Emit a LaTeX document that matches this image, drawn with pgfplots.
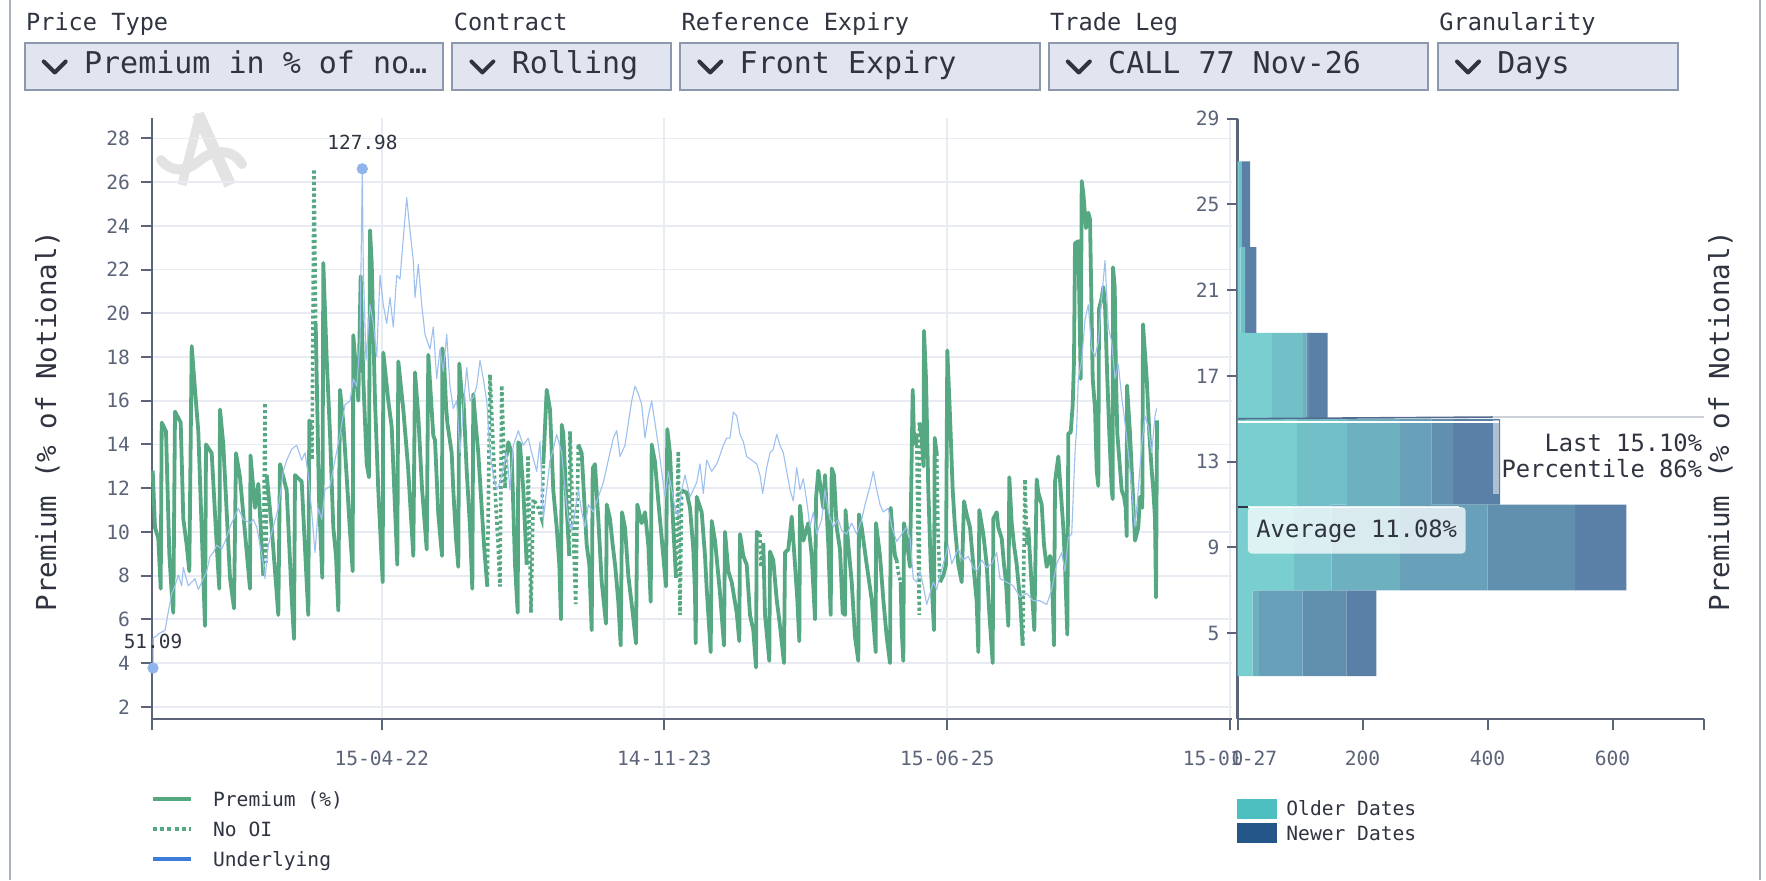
\documentclass[border=0pt]{standalone}
\usepackage{fontspec}
\setmainfont{DejaVu Sans Mono}
\usepackage{pgfplots}
\pgfplotsset{compat=1.18}
\newcommand\fs[1]{\fontsize{#1}{#1}\selectfont}
\definecolor{grn}{HTML}{55A882}
\definecolor{ublue}{HTML}{9EC0EF}
\definecolor{umark}{HTML}{8FB5EA}
\definecolor{lblue}{HTML}{3B7DD8}
\definecolor{tickc}{HTML}{5B6479}
\definecolor{gridc}{HTML}{E8EBF2}
\definecolor{txt}{HTML}{2F3440}
\definecolor{boxfill}{HTML}{E1E5EF}
\definecolor{boxdraw}{HTML}{8D97AD}
\definecolor{panel}{HTML}{A9B0C2}
\definecolor{wm}{HTML}{E3E3E3}
\definecolor{oldc}{HTML}{4DBFC0}
\definecolor{newc}{HTML}{24568A}
\definecolor{hA}{RGB}{121,207,208}
\definecolor{hB}{RGB}{115,191,200}
\definecolor{hC}{RGB}{109,176,192}
\definecolor{hD}{RGB}{103,160,184}
\definecolor{hE}{RGB}{97,144,175}
\definecolor{hF}{RGB}{91,128,167}
\definecolor{lastc}{HTML}{CDD1DA}
\definecolor{bartop}{RGB}{84,108,142}
\tikzset{lbl/.style={inner sep=0pt, text height=0.73em, text depth=0pt}}
\begin{document}
\begin{tikzpicture}
\path[use as bounding box] (0,0) rectangle (883pt,440pt);
\begin{scope}[shift={(0pt,440pt)}, x=0.5pt, y=-0.5pt]
  \fill[white] (0,0) rectangle (1766,880);
  \draw[panel, line width=1pt] (10,0) -- (10,880);
  \draw[panel, line width=1pt] (1760,0) -- (1760,880);
  % watermark logo
  \draw[wm, line width=6pt] (198,114) -- (230,185);
  \draw[wm, line width=4.5pt] (200,114) -- (182,185);
  \draw[wm, line width=5pt, line cap=round] (161,160) .. controls (172,173) and (186,172) .. (199,161) .. controls (212,150) and (231,147) .. (242,164);
\end{scope}

% ---------------- main time series axis ----------------
\begin{axis}[
  at={(76pt,80.5pt)}, anchor=south west,
  width=540pt, height=300.35pt, scale only axis,
  xmin=152, xmax=1232, ymin=1.44, ymax=28.92,
  axis x line*=bottom, axis y line*=left,
  axis line style={draw=tickc, line width=1.1pt},
  xtick={381.7,664.3,947.3,1230},
  xticklabels={15-04-22,14-11-23,15-06-25,15-01-27},
  extra x ticks={152}, extra x tick labels={}, extra x tick style={grid=none},
  ytick={2,4,...,28},
  tick align=outside, major tick length=5.5pt,
  tick style={draw=tickc, line width=1pt},
  xmajorgrids, ymajorgrids, grid style={draw=gridc, line width=0.9pt},
  tick label style={font=\fs{9.8}, text=tickc},
  xticklabel shift=7pt, yticklabel shift=2pt,
  /pgf/number format/assume math mode=true,
  unbounded coords=jump, clip=false,
]
% Premium (%) solid
\addplot[grn, line width=1.9pt, line join=round] coordinates {
(152.7,12.8)(155,10.2)(158.3,9.7)(160.7,7.4)(161.7,15.0)(166,14.6)(169.3,9.0)(171.7,7.2)(173.3,6.3)(175,15.5)(180.7,15.0)(183.3,10.6)(186.7,9.4)(189.3,8.2)(191.7,18.5)(195,16.5)(198.3,14.6)(205,5.7)(206,14.0)(211.7,13.6)(216.7,9.4)(219.3,7.4)(220,15.6)(223.3,14.0)(230,7.9)(234,6.5)(236,13.6)(240,12.5)(250,7.4)(250.5,13.5)(255,11.1)(258.3,12.2)(263.3,8.0)(264,nan)(266.7,12.6)(271.7,10.2)(278.3,6.2)(280,13.1)(286.7,11.9)(291.7,7.0)(294,5.1)(295,12.6)(301.7,12.3)(308.3,6.2)(309.3,15.1)(311,14.8)(312,nan)(315.7,19.5)(319,11.5)(322.3,7.9)(323.3,22.3)(326.7,17.9)(330,14.5)(333.3,10.2)(336,8.9)(338.3,6.4)(340,16.5)(343.3,15.0)(346.7,12.5)(350,10.0)(352.7,8.2)(353.3,19.0)(356.7,17.0)(358.3,16.0)(360.7,21.7)(363.3,17.0)(366.7,13.1)(369,12.5)(370,23.8)(371.7,22.3)(375,16.0)(378.3,11.9)(382.7,7.7)(383.3,18.2)(388.3,16.0)(391.7,14.8)(397.3,8.5)(398.3,17.8)(403.3,15.6)(408,13.0)(413.3,8.9)(415,17.3)(418.3,15.3)(422,12.0)(426.7,9.2)(428.3,18.1)(433.3,14.4)(435,14.2)(438.3,10.8)(442,8.9)(442.3,18.4)(444,17.9)(446,15.8)(447.3,15.0)(451.7,13.6)(453.3,11.9)(456,9.7)(458.3,8.4)(459.3,17.7)(461.7,16.3)(463.3,16.2)(466.7,12.8)(470,10.2)(472.3,7.4)(473.3,16.3)(475,15.3)(478.3,13.6)(481.7,11.1)(484.3,9.2)(487.3,7.5)(488,nan)(506.7,13.5)(508.3,14.1)(511.7,13.6)(515,8.5)(517.7,6.3)(518.3,14.1)(520,14.0)(523.3,11.9)(526.7,8.5)(527,nan)(543.3,13.1)(546.7,16.5)(550,15.6)(553.3,11.9)(556.7,10.2)(559.3,8.5)(561,6.0)(561.7,14.9)(563.3,14.5)(566.7,11.1)(569.3,8.9)(570,nan)(578.3,14.0)(581.7,13.6)(586.7,9.4)(589.3,8.5)(591.7,5.5)(592.7,12.9)(595,13.1)(598.3,10.6)(601.7,7.7)(606,5.8)(606.7,11.25)(610,10.6)(612.7,9.4)(615.3,8.4)(618.3,6.8)(620.7,4.8)(622,10.9)(625,10.2)(628.3,8.0)(632.7,6.3)(636,4.9)(637.3,11.25)(641.7,10.4)(645,10.9)(648.3,9.4)(650.7,6.8)(651.7,14.0)(655,13.2)(658.3,11.4)(661.7,9.7)(666,7.5)(667.3,14.7)(670,13.6)(673.3,10.2)(676,7.9)(677,nan)(681.7,11.9)(686.7,11.8)(690,11.1)(693.3,9.2)(695,7.2)(695.7,4.9)(696.7,11.6)(701.7,10.9)(705,8.9)(706.7,7.4)(710.7,4.5)(711.7,10.5)(715,9.6)(717.3,8.5)(720,7.2)(724,4.8)(725,10.0)(728.3,8.2)(731.7,7.7)(736.7,6.3)(739.3,5.0)(740,9.9)(743.3,8.9)(746.7,8.5)(750,6.2)(753.3,5.5)(756,3.8)(756.7,10.0)(760,9.9)(761,nan)(763.3,9.5)(765,6.2)(769.3,4.1)(770,9.1)(773.3,8.7)(776.7,6.9)(780,5.7)(784,4.0)(785,9.05)(788.3,9.2)(791.7,10.7)(795,8.5)(797.3,6.9)(799.3,5.0)(800,11.2)(803.3,9.6)(808.3,10.4)(811.7,8.9)(815,6.0)(816,11.5)(818.3,12.8)(823.3,11.1)(825,12.6)(828.3,9.4)(830.7,6.2)(831.7,12.9)(834,12.6)(836.7,10.2)(840,9.2)(842.7,6.3)(845,6.2)(845.5,11.0)(848.3,9.4)(851.7,7.7)(855,5.2)(858.3,4.1)(859,10.8)(861.7,10.2)(866.7,8.5)(871.7,6.9)(875.7,4.5)(876,10.4)(880,8.9)(883.3,6.9)(886.7,5.2)(890,4.0)(890.7,11.1)(892.7,9.9)(895,8.9)(896.7,8.7)(897,nan)(900.7,7.7)(901.7,5.5)(903.3,4.1)(904,10.4)(906.7,9.6)(910,8.4)(912.7,16.5)(914,14.3)(916,14.0)(916.7,14.5)(917,nan)(919.4,15.0)(921.7,14.3)(923.5,13.0)(924,19.2)(926,17.0)(928.3,11.9)(930.7,8.5)(934,5.5)(934.7,14.3)(936.7,13.6)(937,nan)(940,7.7)(943.3,8.0)(946,8.5)(947.3,18.3)(950,15.3)(952.7,11.9)(955,10.2)(958.3,8.5)(961.7,7.7)(964,11.4)(966.7,10.8)(970,10.2)(973.3,8.5)(976.7,6.8)(978.3,4.5)(979.3,11.0)(983.3,9.9)(986.7,8.5)(989.3,6.3)(992.7,4.0)(993.3,10.6)(996.7,10.9)(998.3,10.2)(1001.7,9.7)(1004,8.5)(1006,7.7)(1008.3,5.7)(1009.3,12.5)(1011.7,10.4)(1014,9.4)(1016.7,8.5)(1018.3,7.7)(1020,7.0)(1022.7,4.8)(1023,nan)(1028.3,10.2)(1031.7,7.5)(1034.3,5.5)(1036.7,12.4)(1038.3,11.8)(1041.7,11.25)(1044,9.4)(1046.7,8.4)(1050,8.9)(1051.7,8.5)(1052.7,6.85)(1054,4.8)(1055,12.3)(1058.3,13.45)(1060.7,11.9)(1063.3,10.2)(1065,8.5)(1067.3,5.3)(1068.3,14.5)(1070.7,14.55)(1072.7,15.8)(1074,17.85)(1075,23.2)(1078.3,23.3)(1080.7,17.0)(1081.7,26.05)(1083.3,25.5)(1086,23.9)(1088.3,24.6)(1090,24.3)(1092.7,17.0)(1095,15.65)(1096.7,12.8)(1098.3,12.1)(1099,20.2)(1101.7,20.7)(1103.3,21.2)(1105,20.4)(1107.3,17.0)(1109.3,14.5)(1111.7,11.9)(1112.7,11.5)(1113,22.1)(1114.7,21.2)(1116,17.0)(1117.3,14.5)(1121.7,11.9)(1124,11.6)(1125.7,11.1)(1126.7,9.8)(1127,16.7)(1130,14.5)(1132.7,11.9)(1135,9.6)(1138.3,10.2)(1140,11.6)(1142.3,11.1)(1143,19.5)(1146.7,17.0)(1149.3,14.5)(1151.7,12.8)(1153.3,11.9)(1155,10.6)(1156,7.0)(1157,15.1)
};
% No OI dotted
\addplot[grn, line width=1.8pt, dash pattern=on 1.5pt off 1.4pt] coordinates {
(263.3,8.0)(265,15.9)(266,8.6)(266.7,12.6)(267,nan)(311,14.8)(312,13.3)(314,26.6)(315.7,19.5)(316,nan)(487.3,7.5)(490,17.2)(495,12.0)(498.3,9.2)(500,7.5)(501.7,16.7)(505,12.0)(506.7,13.5)(507,nan)(526.7,8.5)(528,13.5)(531,6.3)(533.3,11.5)(538.3,11.1)(541.7,10.6)(543.3,13.1)(544,nan)(569.3,8.9)(570,14.6)(575.7,6.7)(578.3,14.0)(579,nan)(676,7.9)(678.3,13.7)(680,6.2)(681.7,11.9)(682,nan)(760,9.9)(761,8.4)(763.3,9.5)(764,nan)(896.7,8.7)(898,8.2)(900.7,7.7)(901,nan)(916.7,14.5)(918,10.0)(919.3,6.2)(919.4,15.0)(920,nan)(936.7,13.6)(938,10.0)(940,7.7)(941,nan)(1022.7,4.8)(1025,12.4)(1026.7,9.4)(1028.3,10.2)
};
% Underlying (rescaled)
\addplot[ublue, line width=0.55pt, line join=round] coordinates {
(153,3.77)(153.3,5.16)(156.7,5.24)(158.3,5.33)(165,5.50)(168.3,6.34)(171.7,7.19)(175,7.53)(178.3,8.03)(181.7,7.53)(183.3,8.37)(188.3,7.53)(191.7,7.70)(195,7.86)(198.3,7.36)(201.7,7.70)(206.7,8.20)(210,8.88)(213.3,9.05)(216.7,9.39)(221.7,9.22)(225,9.56)(230,10.23)(235,10.74)(238.3,11.08)(243.3,10.57)(250,10.40)(253.3,10.57)(256.7,10.23)(260,9.39)(263.3,8.54)(265,7.86)(268.3,9.39)(273.3,10.23)(278.3,11.08)(283.3,12.77)(286.7,13.28)(291.7,13.79)(296.7,13.96)(301.7,13.28)(305,13.62)(308.3,12.60)(311.7,10.91)(315,9.05)(318.3,11.08)(321.7,10.57)(325,11.93)(330,12.09)(335,13.28)(340,14.46)(345,15.82)(350,15.99)(353.3,17.0)(356.7,16.66)(360,18.69)(362.3,26.61)(363.3,22.08)(366,17.85)(370,20.39)(373.3,19.54)(376.7,18.02)(380,21.74)(383.3,20.39)(386.7,19.54)(390,20.72)(393.3,19.37)(396.7,21.74)(400,21.57)(403.3,23.43)(406.7,25.29)(410,23.77)(413.3,22.42)(415,20.72)(418.3,22.25)(421.7,20.39)(425,19.03)(430,18.36)(433.3,19.37)(436.7,17.0)(440,18.36)(443.3,17.34)(446.7,19.03)(450,16.66)(453.3,15.65)(456.7,15.99)(460,13.62)(463.3,15.65)(466.7,17.51)(470,15.99)(473.3,16.16)(476.7,16.66)(480,17.85)(483.3,17.0)(486.7,15.99)(490,13.62)(493.3,12.60)(496.7,11.93)(500,12.26)(503.3,12.94)(506.7,13.62)(510,11.93)(513.3,13.96)(518.3,14.63)(523.3,13.96)(528.3,14.29)(531.7,13.62)(536.7,12.77)(540,14.13)(543.3,10.57)(546.7,11.93)(550,13.28)(553.3,13.79)(556.7,14.46)(561.7,13.62)(565,11.93)(568.3,10.57)(571.7,10.06)(575,10.91)(578.3,11.93)(581.7,10.91)(585,10.23)(588.3,11.25)(593.3,10.91)(598.3,11.59)(603.3,12.26)(608.3,13.28)(613.3,14.29)(616.7,14.63)(620,13.45)(625,13.96)(628.3,14.97)(631.7,15.99)(635,16.66)(638.3,16.32)(641.7,15.82)(645,14.29)(648.3,15.31)(651.7,15.99)(655,14.97)(658.3,13.96)(661.7,12.77)(665,11.59)(668.3,12.77)(671.7,11.93)(675,11.08)(678.3,10.74)(681.7,11.93)(685,12.60)(690,11.59)(693.3,11.93)(696.7,12.26)(700,13.11)(703.3,11.76)(706.7,13.28)(711.7,12.77)(716.7,13.11)(718.3,13.28)(723.3,13.96)(726.7,14.29)(730,14.29)(733.3,15.48)(736.7,15.31)(740,14.46)(743.3,14.13)(746.7,13.45)(751.7,13.28)(756.7,13.11)(760,12.60)(762.7,11.76)(766.7,12.94)(770,13.62)(773.3,13.79)(776.7,14.46)(780,13.96)(783.3,13.62)(786.7,12.77)(790,11.93)(793.3,11.42)(796.7,12.94)(800,11.93)(803.3,12.43)(806.7,11.42)(810,10.23)(813.3,10.91)(816.7,9.90)(821.7,10.57)(825,11.93)(828.3,10.91)(833.3,10.23)(838.3,10.57)(841.7,10.06)(846.7,9.90)(851.7,10.40)(856.7,9.90)(861.7,10.57)(865,11.25)(870,12.09)(873.3,12.77)(876.7,11.93)(880,11.25)(883.3,10.91)(888.3,11.08)(891.7,10.23)(896.7,9.56)(901.7,9.90)(906.7,10.23)(910,9.73)(913.3,7.86)(916.7,7.70)(920,8.20)(923.3,7.53)(926.7,6.68)(930,7.19)(933.3,7.70)(936.7,7.36)(940,8.03)(943.3,8.54)(948.3,9.39)(951.7,8.54)(955,8.88)(958.3,9.22)(963.3,8.71)(968.3,8.88)(973.3,8.37)(976.7,8.20)(981.7,8.71)(986.7,8.37)(991.7,8.54)(996.7,9.05)(1000,7.86)(1006.7,7.70)(1013.3,7.53)(1020,7.02)(1026.7,7.19)(1033.3,6.85)(1040,6.85)(1046.7,6.68)(1051.7,7.36)(1056.7,8.54)(1061.7,9.05)(1065,8.20)(1068.3,9.73)(1071.7,9.90)(1075,13.62)(1076.7,14.80)(1078.3,17.0)(1081.7,17.85)(1085,19.71)(1088.3,20.39)(1091.7,18.36)(1095,18.02)(1098.3,18.69)(1101.7,20.72)(1105,22.42)(1108.3,19.37)(1111.7,18.69)(1115,17.0)(1118.3,17.68)(1121.7,16.16)(1125,14.97)(1128.3,13.62)(1131.7,11.93)(1135,10.23)(1138.3,11.93)(1141.7,13.96)(1145,15.31)(1148.3,14.80)(1151.7,13.62)(1155,15.31)(1156.7,15.65)
};
\addplot[only marks, mark=*, mark size=2.6pt, mark options={draw=umark, fill=umark}] coordinates {(153,3.77)(362.3,26.61)};
\node[font=\fs{9.7}, text=txt, lbl] at (axis cs:362.5,27.83) {127.98};
\node[font=\fs{9.7}, text=txt, lbl] at (axis cs:153,4.98) {51.09};
\end{axis}

% ---------------- histogram axis ----------------
\begin{axis}[
  at={(618.75pt,80.5pt)}, anchor=south west,
  width=233.15pt, height=300.25pt, scale only axis,
  xmin=0, xmax=746, ymin=1, ymax=29,
  xbar stacked, bar width=4,
  axis x line*=bottom, axis y line*=left,
  axis line style={draw=tickc, line width=1.1pt},
  xtick={0,200,400,600}, extra x ticks={746}, extra x tick labels={},
  ytick={5,9,13,17,21,25,29},
  tick align=outside, major tick length=5.5pt,
  tick style={draw=tickc, line width=1pt},
  tick label style={font=\fs{9.8}, text=tickc},
  xticklabel shift=7pt, yticklabel shift=0pt,
  /pgf/number format/assume math mode=true,
  clip=false,
]
\addplot[fill=hA, draw=none] coordinates {(24,5)(90,9)(95,13)(55,17)(5,21)(2,25)};
\addplot[fill=hB, draw=none] coordinates {(0,5)(60,9)(80,13)(50,17)(7,21)(4,25)};
\addplot[fill=hC, draw=none] coordinates {(10,5)(110,9)(85,13)(5,17)(0,21)(0,25)};
\addplot[fill=hD, draw=none] coordinates {(70,5)(140,9)(50,13)(0,17)(0,21)(0,25)};
\addplot[fill=hE, draw=none] coordinates {(70,5)(140,9)(35,13)(4,17)(0,21)(0,25)};
\addplot[fill=hF, draw=none] coordinates {(48,5)(82,9)(75,13)(30,17)(18,21)(14,25)};
\coordinate (l1) at (axis cs:746,15.08);
\coordinate (l2) at (axis cs:408,15.08);
\coordinate (t0) at (axis cs:0,15.0);
\coordinate (w0) at (axis cs:0,14.85);
\coordinate (w1) at (axis cs:419,14.85);
\coordinate (vb0) at (axis cs:408,11.5);
\coordinate (vb1) at (axis cs:419,14.95);
\coordinate (a0) at (axis cs:0,10.88);
\coordinate (a1) at (axis cs:16.5,10.88);
\coordinate (a2) at (axis cs:355,10.88);
\coordinate (avgBL) at (axis cs:16.5,8.71);
\coordinate (avgTR) at (axis cs:365,10.88);
\coordinate (avgC) at (axis cs:190.7,9.81);
\coordinate (lastT) at (axis cs:744,13.83);
\coordinate (pctT) at (axis cs:744,12.58);
\end{axis}
% histogram annotations (on top of the bars)
\draw[bartop, line width=0.8pt] (t0) -- (l2);
\draw[lastc, line width=0.6pt] (l2) -- (l1);
\draw[white, line width=1.2pt] (w0) -- (w1);
\fill[white, opacity=0.5] (vb0) rectangle (vb1);
\fill[white, opacity=0.75, rounded corners=2pt] (avgBL) rectangle (avgTR);
\draw[white, opacity=0.8, line width=1pt] (a1) -- (a2);
\draw[txt, line width=1pt] (a0) -- (a1);
\node[font=\fs{11.9}, text=txt, lbl] at (avgC) {Average 11.08\%};
\node[font=\fs{11.9}, text=txt, lbl, anchor=east] at (lastT) {Last 15.10\%};
\node[font=\fs{11.9}, text=txt, lbl, anchor=east] at (pctT) {Percentile 86\%};

% ---------------- overlay: controls, labels, legends ----------------
\begin{scope}[shift={(0pt,440pt)}, x=0.5pt, y=-0.5pt]
  % dropdown boxes
  \foreach \l/\r/\lab/\val in {24.7/443.2/Price Type/Premium in \% of no…, 452.4/670.5/Contract/Rolling, 680.3/1039.8/Reference Expiry/Front Expiry, 1048.8/1428.4/Trade Leg/CALL 77 Nov-26, 1438/1677.7/Granularity/Days}{
    \filldraw[fill=boxfill, draw=boxdraw, line width=1pt] (\l,43.3) rectangle (\r,90);
    \draw[txt, line width=2pt, line cap=round, line join=round] (\l+19,61.5) -- (\l+30,72.5) -- (\l+41,61.5);
    \node[anchor=west, lbl, font=\fs{15}, text=txt] at (\l+59,66.6) {\val};
    \node[anchor=west, lbl, font=\fs{11.8}, text=txt] at (\l+1,23.3) {\lab};
  }
  % axis titles
  \node[rotate=90, font=\fs{13.75}, text=txt] at (47.5,421) {Premium (\% of Notional)};
  \node[rotate=90, font=\fs{13.75}, text=txt] at (1720.5,421) {Premium (\% of Notional)};
  % left legend
  \draw[grn, line width=2pt] (153,798.7) -- (191,798.7);
  \draw[grn, line width=2pt, dash pattern=on 2pt off 1.6pt] (153,828.7) -- (191,828.7);
  \draw[lblue, line width=2pt] (153,858.7) -- (191,858.7);
  \node[anchor=west, lbl, font=\fs{9.8}, text=txt] at (212.7,798.7) {Premium (\%)};
  \node[anchor=west, lbl, font=\fs{9.8}, text=txt] at (212.7,828.7) {No OI};
  \node[anchor=west, lbl, font=\fs{9.8}, text=txt] at (212.7,858.7) {Underlying};
  % right legend
  \fill[oldc] (1237,799) rectangle (1277,818.7);
  \fill[newc] (1237,823) rectangle (1277,843);
  \node[anchor=west, lbl, font=\fs{9.8}, text=txt] at (1286,808.3) {Older Dates};
  \node[anchor=west, lbl, font=\fs{9.8}, text=txt] at (1286,832.7) {Newer Dates};
\end{scope}
\end{tikzpicture}
\end{document}
